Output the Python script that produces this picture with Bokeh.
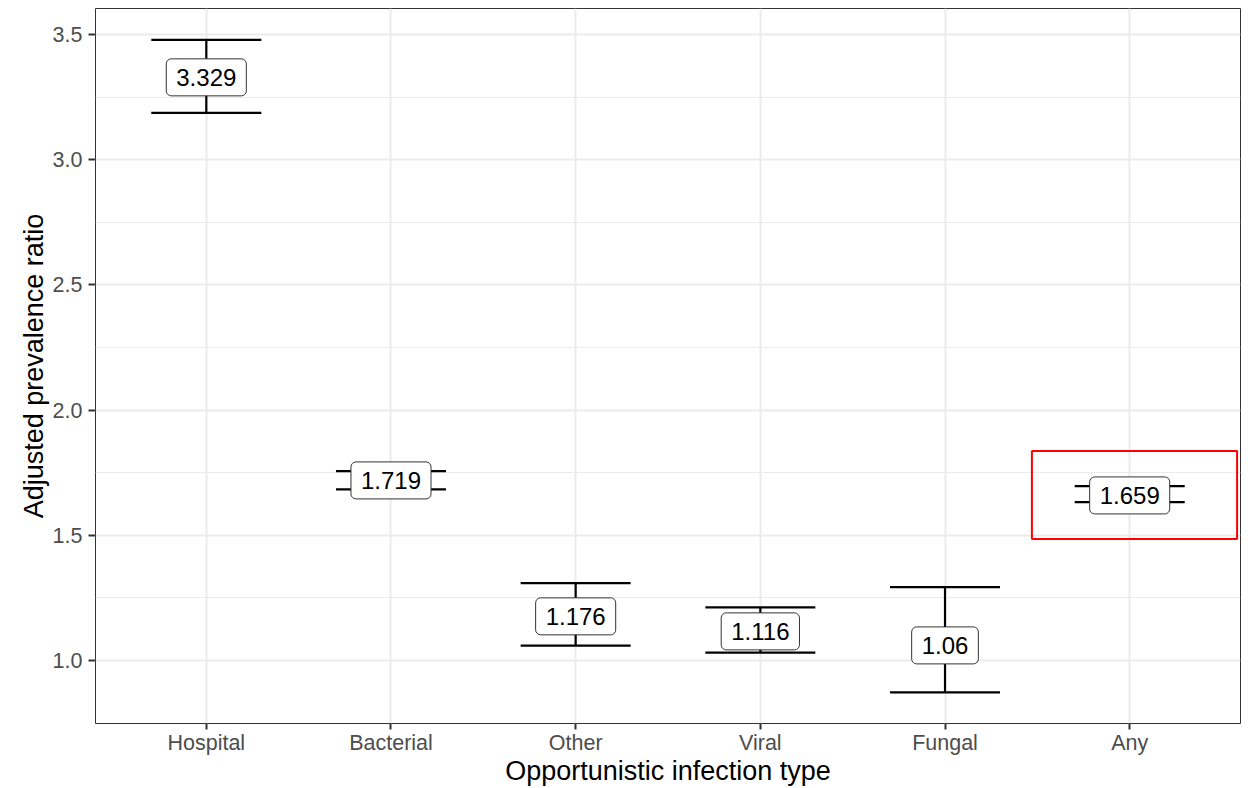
from bokeh.plotting import figure
from bokeh.models import (FactorRange, Range1d, FixedTicker, PrintfTickFormatter,
                          ColumnDataSource, Whisker, TeeHead)
from bokeh.core.properties import value
from bokeh.embed import file_html
from bokeh.resources import INLINE

# ---- data ----
categories = ["Hospital", "Bacterial", "Other", "Viral", "Fungal", "Any"]
estimates = [3.329, 1.719, 1.176, 1.116, 1.06, 1.659]
lower = [3.187, 1.683, 1.059, 1.031, 0.872, 1.632]
upper = [3.479, 1.756, 1.309, 1.212, 1.293, 1.696]
y_ticks = [1.0, 1.5, 2.0, 2.5, 3.0, 3.5]
y_minor = [1.25, 1.75, 2.25, 2.75, 3.25]
highlight = "Any"
highlight_low = 1.485
highlight_high = 1.836

labels = [f"{v:g}" for v in estimates]
FONT = "Liberation Sans"

src = ColumnDataSource(dict(x=categories, est=estimates, lower=lower,
                            upper=upper, label=labels))

p = figure(x_range=FactorRange(factors=categories, range_padding=0.1,
                               range_padding_units="absolute"),
           y_range=Range1d(0.748, 3.604),
           width=1248, height=788, output_backend="svg", toolbar_location=None,
           min_border_left=95, min_border_right=8, min_border_top=8,
           min_border_bottom=65)

p.background_fill_color = "white"
p.border_fill_color = "white"
p.outline_line_color = "#333333"
p.outline_line_width = 1

yt = FixedTicker(ticks=y_ticks, minor_ticks=y_minor)
p.yaxis.ticker = yt
p.ygrid.ticker = yt
p.yaxis.formatter = PrintfTickFormatter(format="%.1f")

for g in (p.xgrid, p.ygrid):
    g.grid_line_color = "#EBEBEB"
    g.grid_line_width = 2
p.ygrid.minor_grid_line_color = "#EBEBEB"
p.ygrid.minor_grid_line_width = 1

for ax in (p.xaxis, p.yaxis):
    ax.axis_line_color = None
    ax.major_tick_line_color = "#333333"
    ax.major_tick_line_width = 2
    ax.major_tick_in = 0
    ax.minor_tick_line_color = None
    ax.major_label_text_font = FONT
    ax.major_label_text_font_size = "21.5px"
    ax.major_label_text_color = "#4D4D4D"
    ax.axis_label_text_font = FONT
    ax.axis_label_text_font_size = "27px"
    ax.axis_label_text_font_style = "normal"
    ax.axis_label_text_color = "black"

p.yaxis.axis_label = "Adjusted prevalence ratio"
p.yaxis.major_tick_out = 7
p.yaxis.major_label_standoff = 6
p.yaxis.axis_label_standoff = 1

p.xaxis.axis_label = "Opportunistic infection type"
p.xaxis.major_tick_out = 6
p.xaxis.major_label_standoff = 1
p.xaxis.axis_label_standoff = -2

# error bars
p.add_layout(Whisker(base="x", upper="upper", lower="lower", source=src,
                     line_color="black", line_width=2.2,
                     upper_head=TeeHead(size=110, line_color="black", line_width=2.2),
                     lower_head=TeeHead(size=110, line_color="black", line_width=2.2)))

# labels
p.text(x="x", y="est", text="label", source=src,
       text_font=value(FONT), text_font_size="24px", text_color="black",
       text_align="center", text_baseline="middle",
       background_fill_color="white", border_line_color="#333333",
       border_line_width=1, padding=dict(left=10, right=10, top=10, bottom=10),
       border_radius=5)

# highlight box
p.vbar(x=[(highlight, 0.026)], width=1.111, bottom=[highlight_low],
       top=[highlight_high], fill_color=None, line_color="#FF0000", line_width=2)

open("out.html", "w").write(file_html(p, INLINE))
